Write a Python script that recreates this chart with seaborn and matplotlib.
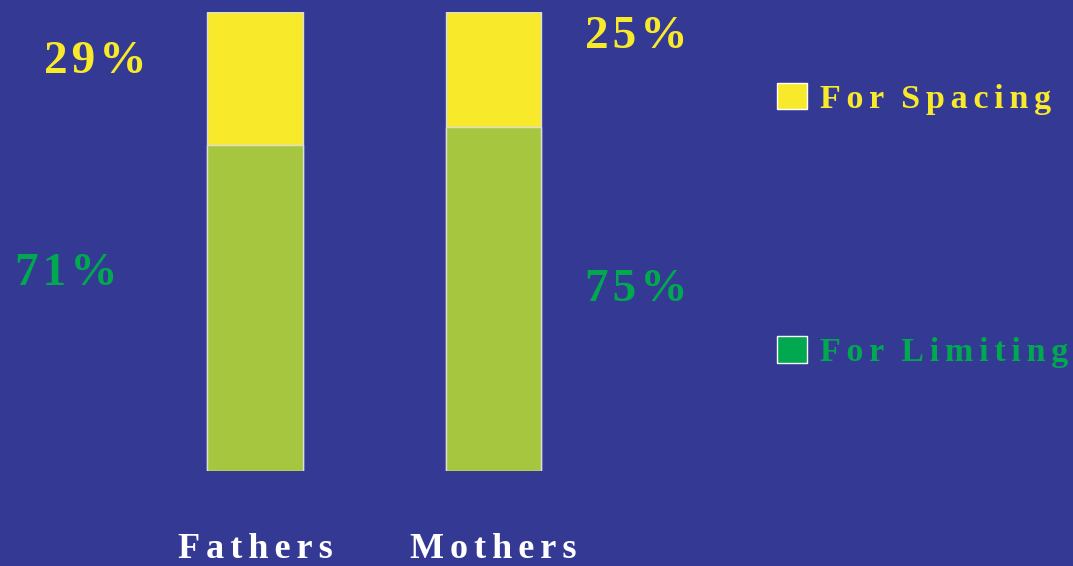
import seaborn as sns
import pandas as pd
from matplotlib import pyplot as plt
from matplotlib.patches import Patch

groups = ['Fathers', 'Mothers']
limiting = [71, 75]
spacing = [29, 25]
series = ['For Spacing', 'For Limiting']

bg = '#343A93'
yellow = '#F8EA2A'
bar_green = '#A6C63F'
text_green = '#00A84F'

HAIR = '\u200a'

def spaced(s, n=2):
    # letter-spaced text built from hair spaces
    sep = HAIR * n
    return (sep + ' ' + HAIR).join(sep.join(w) for w in s.split(' '))

df = pd.DataFrame({'group': groups, 'limiting': limiting, 'spacing': spacing})
df['total'] = df['limiting'] + df['spacing']

sns.set_style('white')
plt.rcParams['font.family'] = ['Liberation Serif', 'DejaVu Serif']

fig = plt.figure(figsize=(10.73, 5.66), dpi=100, facecolor=bg)
ax = fig.add_axes([0, 95 / 566, 1, 459 / 566])
ax.set_facecolor(bg)

sns.barplot(data=df, x='group', y='total', color=yellow, width=0.4025,
            errorbar=None, edgecolor='#DDDDDD', linewidth=1, saturation=1, ax=ax)
sns.barplot(data=df, x='group', y='limiting', color=bar_green, width=0.4025,
            errorbar=None, edgecolor='#DDDDDD', linewidth=1, saturation=1, ax=ax)

ax.set_xlim(-255 / 238.5, (1073 - 255) / 238.5)
ax.set_ylim(0, 100)
for s in ax.spines.values():
    s.set_visible(False)
ax.set_yticks([])
ax.set_xlabel('')
ax.set_ylabel('')
ax.set_xticks(range(len(groups)))
ax.set_xticklabels([spaced(g) for g in groups], color='white', fontweight='bold', fontsize=26)
ax.tick_params(axis='x', length=0, pad=45)

# percentage labels
pct = dict(fontweight='bold', fontsize=34, ha='center', va='center')
ax.text(-0.67, 89, HAIR.join(f'{spacing[0]}%'), color=yellow, **pct)
ax.text(-0.79, 42.9, HAIR.join(f'{limiting[0]}%'), color=text_green, **pct)
ax.text(1.6, 94.5, HAIR.join(f'{spacing[1]}%'), color=yellow, **pct)
ax.text(1.6, 39.4, HAIR.join(f'{limiting[1]}%'), color=text_green, **pct)

handles = [Patch(facecolor=yellow, edgecolor='white'), Patch(facecolor=text_green, edgecolor='white')]
ax.legend(handles, [spaced(s) for s in series], loc='upper left',
          bbox_to_anchor=(777 / 1073, (471 - 83) / 459), frameon=False,
          labelcolor=[yellow, text_green], prop=dict(weight='bold', size=24.5),
          labelspacing=6.5, handlelength=0.87, handleheight=0.82, handletextpad=0.4,
          borderpad=0, borderaxespad=0)

fig.savefig('out.png', dpi=100, facecolor=bg)
